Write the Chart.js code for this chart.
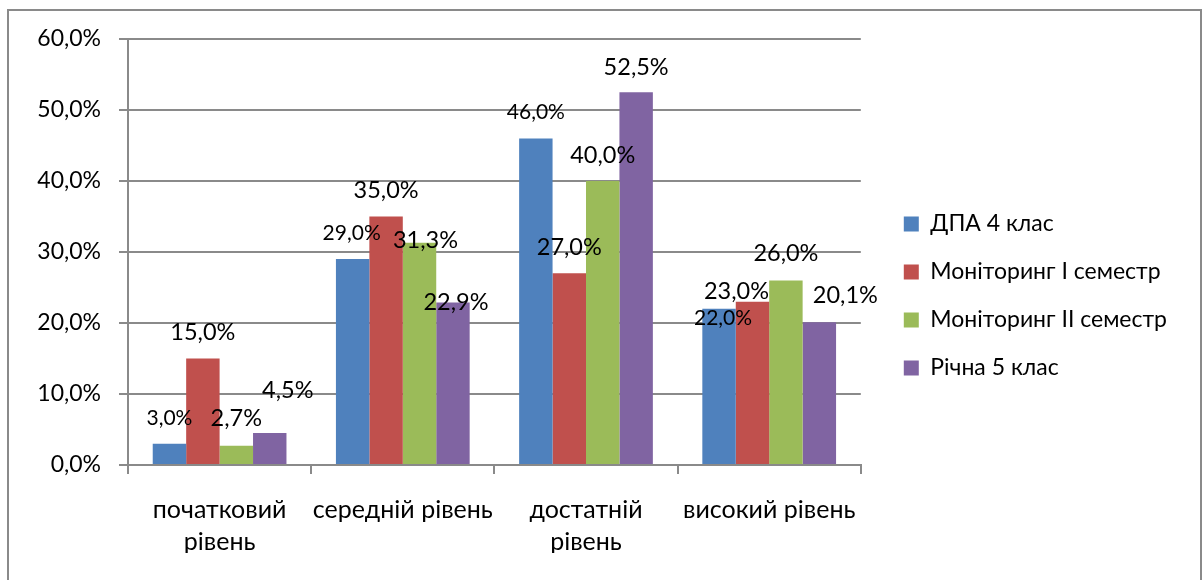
<!DOCTYPE html>
<html>
<head>
<meta charset="utf-8">
<script src="https://cdn.jsdelivr.net/npm/chart.js@4/dist/chart.umd.min.js"></script>
<style>
  html, body { margin: 0; padding: 0; background: #fff; }
  #wrap { position: relative; width: 1203px; height: 580px; }
</style>
</head>
<body>
<div id="wrap"><canvas id="bar-chartcanvas"></canvas></div>
<script>
// categories (x axis), split into lines the way the picture wraps them
var categories = [["початковий", "рівень"], ["середній рівень"], ["достатній", "рівень"], ["високий рівень"]];

// series names + values (percent)
var seriesNames = ["ДПА 4 клас", "Моніторинг І семестр", "Моніторинг ІІ семестр", "Річна 5 клас"];
var dpa4      = [3.0, 29.0, 46.0, 22.0];
var monitor1  = [15.0, 35.0, 27.0, 23.0];
var monitor2  = [2.7, 31.3, 40.0, 26.0];
var richna5   = [4.5, 22.9, 52.5, 20.1];

// y axis ticks
var yTicks = [0, 10, 20, 30, 40, 50, 60];

var colors = ["#4F81BD", "#C0504D", "#9BBB59", "#8064A2"];

// label nudges [dx, dy] from top-centre of each bar (labels were dragged in the original)
var labelShift = [
    [[0, -25], [-1, -26], [0, -26], [4, 9]],
    [[0, -26], [0, -26], [0, -26], [-16, -10]],
    [[0, -27], [6, -2], [0, -26], [0, -27]],
    [[18, -43], [3, 0], [0, -25], [26, -27]]
];

function pct(v) {
    return v.toFixed(1).replace(".", ",") + "%";
}

Chart.defaults.font.family = "Lato, 'Open Sans', sans-serif";
Chart.defaults.color = "#000";

//draws the outer frame of the chart
var framePlugin = {
    id: "frame",
    beforeDraw: function(chart) {
        var c = chart.ctx;
        c.save();
        c.fillStyle = "#fff";
        c.fillRect(0, 0, chart.width, chart.height);
        c.strokeStyle = "#8a8a8a";
        c.lineWidth = 2;
        c.strokeRect(8, 10, 1193, 620);
        c.restore();
    }
};

//value labels above bars
var valueLabels = {
    id: "valueLabels",
    afterDatasetsDraw: function(chart) {
        var c = chart.ctx;
        c.save();
        c.textAlign = "center";
        c.textBaseline = "middle";
        c.fillStyle = "#000";
        chart.data.datasets.forEach(function(ds, i) {
            var meta = chart.getDatasetMeta(i);
            c.font = (i === 0 ? "21px " : "23.5px ") + Chart.defaults.font.family;
            meta.data.forEach(function(bar, j) {
                var s = labelShift[i][j];
                c.fillText(pct(ds.data[j]), bar.x + s[0], bar.y + s[1]);
            });
        });
        c.restore();
    }
};

var allSeries = [dpa4, monitor1, monitor2, richna5];

var data = {
    labels: categories,
    datasets: allSeries.map(function(vals, i) {
        return {
            label: seriesNames[i],
            data: vals,
            backgroundColor: colors[i],
            borderWidth: 0,
            categoryPercentage: 0.73,
            barPercentage: 1.0
        };
    })
};

var options = {
    responsive: true,
    maintainAspectRatio: false,
    animation: false,
    layout: {
        padding: { left: 0, top: 39, right: 26, bottom: 27 }
    },
    scales: {
        x: {
            grid: {
                display: true,
                offset: true,
                drawOnChartArea: false,
                drawTicks: true,
                tickLength: 9,
                color: "#8a8a8a",
                lineWidth: 2
            },
            border: { display: true, color: "#8a8a8a", width: 2 },
            ticks: {
                font: { size: 25, lineHeight: 1.28 },
                padding: 20,
                maxRotation: 0,
                autoSkip: false
            },
            afterFit: function(s) { s.height = 88; }
        },
        y: {
            min: yTicks[0],
            max: yTicks[yTicks.length - 1],
            grid: {
                color: "#8a8a8a",
                lineWidth: 2,
                tickLength: 9
            },
            border: { display: true, color: "#8a8a8a", width: 2 },
            ticks: {
                stepSize: yTicks[1] - yTicks[0],
                font: { size: 23 },
                padding: 18,
                callback: function(v) { return pct(v); }
            },
            afterFit: function(s) { s.width = 128; }
        },
        // empty spacer between plot and legend
        gap: {
            type: "linear",
            position: "right",
            display: true,
            grid: { display: false },
            border: { display: false },
            ticks: { display: false },
            afterFit: function(s) { s.width = 18; }
        }
    },
    plugins: {
        tooltip: { enabled: false },
        legend: {
            display: true,
            position: "right",
            align: "center",
            maxWidth: 400,
            labels: {
                boxWidth: 15,
                boxHeight: 15,
                padding: 25,
                color: "#000",
                font: { size: 23 }
            }
        }
    }
};

var chart1 = new Chart(document.getElementById("bar-chartcanvas"), {
    type: "bar",
    data: data,
    options: options,
    plugins: [framePlugin, valueLabels]
});
</script>
</body>
</html>
